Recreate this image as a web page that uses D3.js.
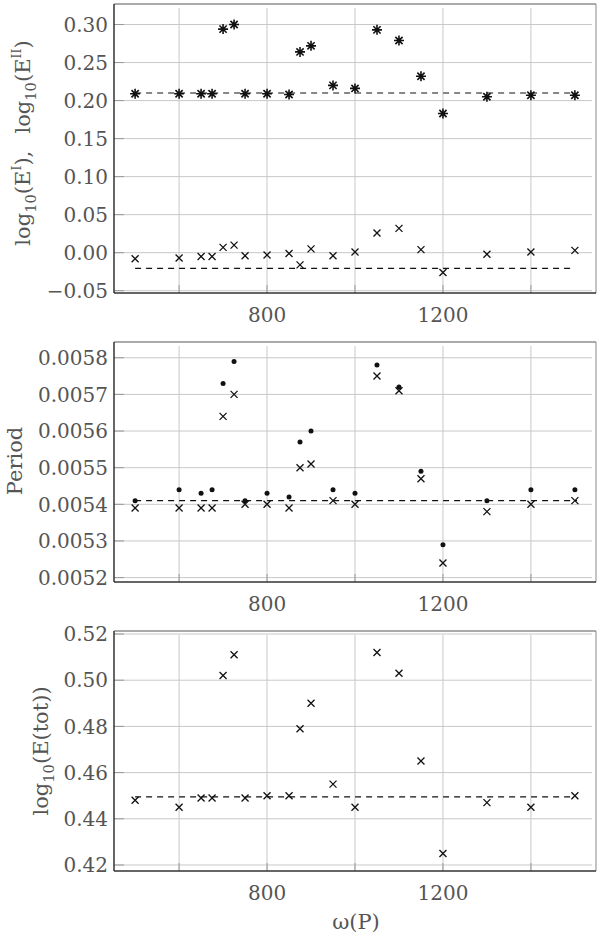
<!DOCTYPE html>
<html>
<head>
<meta charset="utf-8">
<script src="https://cdn.jsdelivr.net/npm/d3@7"></script>
<style>
  body { margin: 0; background: #fff; }
  svg { display: block; }
  text { font-family: "DejaVu Serif", serif; fill: #555; }
</style>
</head>
<body>
<figure style="margin:0"></figure>
<script>
// omega(P) values, shared by all three panels
var omega = [500, 600, 650, 675, 700, 725, 750, 800, 850, 875, 900, 950, 1000, 1050, 1100, 1150, 1200, 1300, 1400, 1500];

// top panel: log10(E^I) (crosses) and log10(E^II) (asterisks)
var logE1 = [-0.008, -0.007, -0.005, -0.005, 0.007, 0.010, -0.004, -0.003, -0.001, -0.016, 0.005, -0.004, 0.001, 0.026, 0.032, 0.004, -0.026, -0.002, 0.001, 0.003];
var logE2 = [0.209, 0.209, 0.209, 0.209, 0.294, 0.300, 0.209, 0.209, 0.208, 0.264, 0.272, 0.220, 0.216, 0.293, 0.279, 0.232, 0.183, 0.205, 0.207, 0.207];
var refE1 = -0.0205, refE2 = 0.21;

// middle panel: period (dots and crosses)
var periodDot = [0.00541, 0.00544, 0.00543, 0.00544, 0.00573, 0.00579, 0.00541, 0.00543, 0.00542, 0.00557, 0.00560, 0.00544, 0.00543, 0.00578, 0.00572, 0.00549, 0.00529, 0.00541, 0.00544, 0.00544];
var periodX   = [0.00539, 0.00539, 0.00539, 0.00539, 0.00564, 0.00570, 0.00540, 0.00540, 0.00539, 0.00550, 0.00551, 0.00541, 0.00540, 0.00575, 0.00571, 0.00547, 0.00524, 0.00538, 0.00540, 0.00541];
var refPeriod = 0.00541;

// bottom panel: log10(E(tot))
var logEtot = [0.448, 0.445, 0.449, 0.449, 0.502, 0.511, 0.449, 0.450, 0.450, 0.479, 0.490, 0.455, 0.445, 0.512, 0.503, 0.465, 0.425, 0.447, 0.445, 0.450];
var refEtot = 0.4495;

var xTicks = [800, 1200];
var xGrid = [600, 800, 1000, 1200, 1400];
var yTicksTop = [-0.05, 0, 0.05, 0.10, 0.15, 0.20, 0.25, 0.30];
var yTicksMid = [0.0052, 0.0053, 0.0054, 0.0055, 0.0056, 0.0057, 0.0058];
var yTicksBot = [0.42, 0.44, 0.46, 0.48, 0.50, 0.52];

var W = 600, H = 936;
var left = 114, right = 596;

var svg = d3.select("figure").append("svg")
    .attr("width", W)
    .attr("height", H);

var x = d3.scaleLinear().domain([452, 1548]).range([left, right]);

function minus(s) { return s.replace("-", "\u2212"); }

function panel(top, bottom, ydom, yticks, fmt) {
    var y = d3.scaleLinear().domain(ydom).range([bottom, top]);
    var g = svg.append("g");

    // grid
    g.selectAll(".vg").data(xGrid).enter().append("line")
        .attr("x1", function(d) { return x(d); }).attr("x2", function(d) { return x(d); })
        .attr("y1", top + 4).attr("y2", bottom)
        .attr("stroke", "#c8c8c8").attr("stroke-width", 1);
    g.selectAll(".hg").data(yticks).enter().append("line")
        .attr("x1", left).attr("x2", right - 4)
        .attr("y1", function(d) { return y(d); }).attr("y2", function(d) { return y(d); })
        .attr("stroke", "#c8c8c8").attr("stroke-width", 1);

    // short tick marks
    g.selectAll(".yt").data(yticks).enter().append("line")
        .attr("x1", left).attr("x2", left + 10)
        .attr("y1", function(d) { return y(d); }).attr("y2", function(d) { return y(d); })
        .attr("stroke", "#999").attr("stroke-width", 1);
    g.selectAll(".xt").data(xGrid).enter().append("line")
        .attr("x1", function(d) { return x(d); }).attr("x2", function(d) { return x(d); })
        .attr("y1", bottom).attr("y2", bottom - 8)
        .attr("stroke", "#999").attr("stroke-width", 1);

    // frame
    g.append("line").attr("x1", left).attr("x2", right).attr("y1", top).attr("y2", top)
        .attr("stroke", "#aaa").attr("stroke-width", 2);
    g.append("line").attr("x1", right).attr("x2", right).attr("y1", top).attr("y2", bottom)
        .attr("stroke", "#888").attr("stroke-width", 1);
    g.append("line").attr("x1", left).attr("x2", left).attr("y1", top).attr("y2", bottom)
        .attr("stroke", "#333").attr("stroke-width", 1.5);
    g.append("line").attr("x1", left).attr("x2", right).attr("y1", bottom).attr("y2", bottom)
        .attr("stroke", "#333").attr("stroke-width", 1.5);

    // tick labels
    g.selectAll(".yl").data(yticks).enter().append("text")
        .attr("x", left - 6).attr("y", function(d) { return y(d); })
        .attr("dy", "0.36em").attr("text-anchor", "end")
        .attr("font-size", 20)
        .text(function(d) { return minus(d3.format(fmt)(d)); });
    g.selectAll(".xl").data(xTicks).enter().append("text")
        .attr("x", function(d) { return x(d); }).attr("y", bottom + 29)
        .attr("text-anchor", "middle").attr("font-size", 20)
        .text(function(d) { return d; });

    return { g: g, y: y };
}

function dashed(p, val, x0, x1) {
    var line = d3.line().x(function(d) { return x(d[0]); }).y(function(d) { return p.y(d[1]); });
    p.g.append("path")
        .datum([[x0, val], [x1, val]])
        .attr("d", line)
        .attr("fill", "none").attr("stroke", "#111")
        .attr("stroke-width", 1.2).attr("stroke-dasharray", "6,5");
}

function crosses(p, vals, s) {
    var pts = omega.map(function(w, i) { return [x(w), p.y(vals[i])]; });
    p.g.append("g").selectAll("path").data(pts).enter().append("path")
        .attr("d", function(d) {
            return "M" + (d[0] - s) + "," + (d[1] - s) + "L" + (d[0] + s) + "," + (d[1] + s) +
                   "M" + (d[0] - s) + "," + (d[1] + s) + "L" + (d[0] + s) + "," + (d[1] - s);
        })
        .attr("stroke", "#111").attr("stroke-width", 1.3).attr("fill", "none");
}

function stars(p, vals, s) {
    var pts = omega.map(function(w, i) { return [x(w), p.y(vals[i])]; });
    var d2 = s * 0.72;
    p.g.append("g").selectAll("path").data(pts).enter().append("path")
        .attr("d", function(d) {
            return "M" + d[0] + "," + (d[1] - s) + "L" + d[0] + "," + (d[1] + s) +
                   "M" + (d[0] - s) + "," + d[1] + "L" + (d[0] + s) + "," + d[1] +
                   "M" + (d[0] - d2) + "," + (d[1] - d2) + "L" + (d[0] + d2) + "," + (d[1] + d2) +
                   "M" + (d[0] - d2) + "," + (d[1] + d2) + "L" + (d[0] + d2) + "," + (d[1] - d2);
        })
        .attr("stroke", "#111").attr("stroke-width", 1.6).attr("fill", "none");
}

function dots(p, vals, r) {
    p.g.append("g").selectAll("circle").data(omega).enter().append("circle")
        .attr("cx", function(d) { return x(d); })
        .attr("cy", function(d, i) { return p.y(vals[i]); })
        .attr("r", r).attr("fill", "#111");
}

// top panel
var p1 = panel(4, 293, [-0.053, 0.327], yTicksTop, ".2f");
dashed(p1, refE2, 500, 1500);
dashed(p1, refE1, 500, 1490);
stars(p1, logE2, 5);
crosses(p1, logE1, 3.5);

// middle panel
var p2 = panel(342, 582, [0.005188, 0.005843], yTicksMid, ".4f");
dashed(p2, refPeriod, 500, 1505);
dots(p2, periodDot, 2.5);
crosses(p2, periodX, 3.5);

// bottom panel
var p3 = panel(631, 871, [0.4174, 0.5213], yTicksBot, ".2f");
dashed(p3, refEtot, 500, 1500);
crosses(p3, logEtot, 3.5);

// axis titles
function ylabel(cx, cy, size, parts) {
    var t = svg.append("text")
        .attr("transform", "translate(" + cx + "," + cy + ") rotate(-90)")
        .attr("text-anchor", "middle").attr("font-size", size);
    parts.forEach(function(p) {
        var ts = t.append("tspan").text(p[0]);
        if (p[1] == "sub") ts.attr("font-size", size * 0.7).attr("dy", 6);
        else if (p[1] == "sup") ts.attr("font-size", size * 0.6).attr("dy", -9);
        if (p[2]) ts.attr("dy", p[2]);
    });
}

ylabel(30, 143, 21, [["log"], ["10", "sub"], ["(E", null, -6], ["I", "sup"], ["),\u2002 log", null, 9], ["10", "sub"], ["(E", null, -6], ["II", "sup"], [")", null, 9]]);
ylabel(22, 461, 21, [["Period"]]);
ylabel(48, 751, 21, [["log"], ["10", "sub"], ["(E(tot))", null, -6]]);

svg.append("text")
    .attr("x", 356).attr("y", 929)
    .attr("text-anchor", "middle").attr("font-size", 21)
    .text("\u03c9(P)");
</script>
</body>
</html>
